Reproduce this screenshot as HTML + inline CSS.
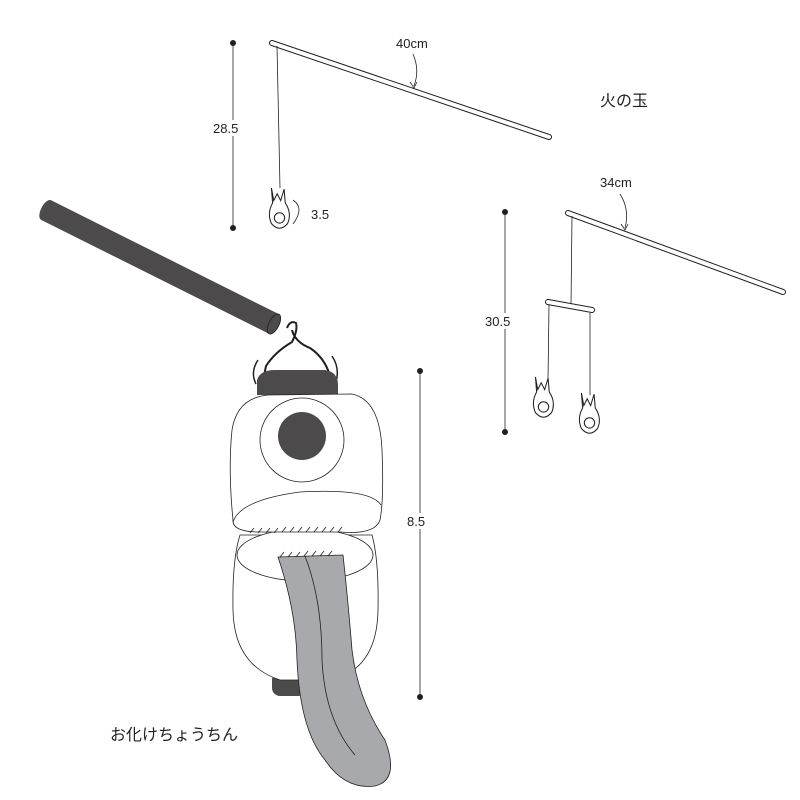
<!DOCTYPE html>
<html><head><meta charset="utf-8"><style>body{margin:0;background:#fff}svg{display:block}text{font-family:"Liberation Sans","Noto Sans CJK JP",sans-serif;fill:#231f20}</style></head><body>
<svg width="800" height="800" viewBox="0 0 800 800" xmlns="http://www.w3.org/2000/svg">
<defs>
<g id="flame" fill="#fff" stroke="#231f20" stroke-width="0.9">
<path d="M3,0 L5,11 L8,5 L11,11 L14,1 L15,13 Q21,22 17,31 Q10,39 3,31 Q-1,22 4,13 Z"/>
<circle cx="10" cy="26" r="4.5"/>
</g>
</defs>
<!-- top rod -->
<line x1="272" y1="43" x2="549" y2="137" stroke="#231f20" stroke-width="6" stroke-linecap="round"/>
<line x1="272" y1="43" x2="549" y2="137" stroke="#fff" stroke-width="4" stroke-linecap="round"/>
<line x1="277" y1="46" x2="280" y2="188" stroke="#231f20" stroke-width="0.8"/>
<use href="#flame" transform="translate(268,188) scale(1.15)"/>
<path d="M293,200 Q305,208 293,224" fill="none" stroke="#231f20" stroke-width="0.8"/>
<text x="311" y="219" font-size="13">3.5</text>
<line x1="233" y1="43" x2="233" y2="228" stroke="#231f20" stroke-width="0.8"/>
<circle cx="233" cy="43" r="3" fill="#231f20"/><circle cx="233" cy="228" r="3" fill="#231f20"/>
<rect x="212" y="120" width="40" height="16" fill="#fff"/>
<text x="213" y="133" font-size="13">28.5</text>
<text x="396" y="48" font-size="13">40cm</text>
<path d="M413,54 Q420,70 414,86" fill="none" stroke="#231f20" stroke-width="0.8"/>
<path d="M410,82 L414,88 L417,82" fill="none" stroke="#231f20" stroke-width="0.8"/>
<text x="600" y="106" font-size="16">火の玉</text>
<!-- second rod -->
<line x1="568" y1="213" x2="783" y2="292" stroke="#231f20" stroke-width="6" stroke-linecap="round"/>
<line x1="568" y1="213" x2="783" y2="292" stroke="#fff" stroke-width="4" stroke-linecap="round"/>
<line x1="572" y1="216" x2="571" y2="306" stroke="#231f20" stroke-width="0.8"/>
<line x1="548" y1="302" x2="592" y2="310" stroke="#231f20" stroke-width="6" stroke-linecap="round"/>
<line x1="548" y1="302" x2="592" y2="310" stroke="#fff" stroke-width="4" stroke-linecap="round"/>
<line x1="549" y1="305" x2="548" y2="380" stroke="#231f20" stroke-width="0.8"/>
<line x1="590" y1="313" x2="590" y2="395" stroke="#231f20" stroke-width="0.8"/>
<use href="#flame" transform="translate(532,377) scale(1.15)"/>
<use href="#flame" transform="translate(578,393) scale(1.15)"/>
<text x="600" y="187" font-size="13">34cm</text>
<path d="M620,194 Q630,210 625,228" fill="none" stroke="#231f20" stroke-width="0.8"/>
<path d="M621,224 L625,230 L628,224" fill="none" stroke="#231f20" stroke-width="0.8"/>
<line x1="505" y1="212" x2="505" y2="432" stroke="#231f20" stroke-width="0.8"/>
<circle cx="505" cy="212" r="3" fill="#231f20"/><circle cx="505" cy="432" r="3" fill="#231f20"/>
<rect x="484" y="313" width="40" height="16" fill="#fff"/>
<text x="485" y="326" font-size="13">30.5</text>
<!-- pole -->
<line x1="46" y1="210" x2="274" y2="324" stroke="#4d4a4b" stroke-width="22" stroke-linecap="butt"/>
<ellipse cx="46" cy="210" rx="5" ry="11" transform="rotate(27 46 210)" fill="#4d4a4b"/>
<ellipse cx="274" cy="324" rx="5" ry="11" transform="rotate(27 274 324)" fill="#4d4a4b" stroke="#231f20" stroke-width="0.8"/>
<!-- hook -->
<path d="M287,328 Q290,320 296,323 Q298,330 292,342 Q275,352 266,366 L264,376 M292,330 Q295,342 310,348 Q325,358 330,376" fill="none" stroke="#231f20" stroke-width="2"/>
<path d="M258,360 Q250,372 256,384 M332,356 Q340,368 336,382" fill="none" stroke="#231f20" stroke-width="1.5"/>
<!-- lantern -->
<path d="M257,395 L257,380 Q260,370 275,370 L325,370 Q338,372 338,385 L338,395 Z" fill="#4d4a4b"/>
<rect x="272" y="672" width="34" height="24" rx="8" fill="#4d4a4b"/>
<path d="M240,535 Q232,560 233,610 Q234,665 280,680 L330,680 Q377,670 378,610 Q379,560 372,535 Z" fill="#fff" stroke="#231f20" stroke-width="0.8"/>
<ellipse cx="305" cy="555" rx="68" ry="26" fill="#fff" stroke="#231f20" stroke-width="0.8"/>
<path d="M268,395 L352,394 Q380,400 382,450 Q384,500 380,520 Q375,535 340,532 L260,532 Q232,532 233,520 Q228,470 232,430 Q237,398 268,395 Z" fill="#fff" stroke="#231f20" stroke-width="0.8"/>
<path d="M233,522 Q240,500 300,492 Q370,488 381,505" fill="none" stroke="#231f20" stroke-width="0.8"/>
<circle cx="302" cy="440" r="42" fill="#fff" stroke="#231f20" stroke-width="0.8"/>
<circle cx="302" cy="436" r="24" fill="#4d4a4b"/>
<g stroke="#231f20" stroke-width="0.8">
<path d="M250,533 l4,-5 M258,533 l4,-5 M266,533 l4,-5 M274,533 l4,-5 M282,532 l4,-5 M290,532 l4,-5 M298,532 l4,-5 M306,532 l4,-5 M314,532 l4,-5 M322,532 l4,-5 M330,532 l4,-5 M338,532 l4,-5"/>
</g>
<!-- tail -->
<path d="M278,557 L343,555 Q348,600 352,650 Q358,700 385,740 Q400,780 375,786 Q345,790 325,760 Q300,730 297,660 Q296,610 278,557 Z" fill="#a7a9ac" stroke="#231f20" stroke-width="0.8"/>
<path d="M305,556 Q322,600 322,660 Q325,720 355,755" fill="none" stroke="#231f20" stroke-width="0.8"/>
<path d="M280,557 l4,-5 M288,557 l4,-5 M296,557 l4,-5 M304,556 l4,-5 M312,556 l4,-5 M320,556 l4,-5 M328,556 l4,-5" stroke="#231f20" stroke-width="0.8"/>
<line x1="420" y1="371" x2="420" y2="697" stroke="#231f20" stroke-width="0.8"/>
<circle cx="420" cy="371" r="3" fill="#231f20"/><circle cx="420" cy="697" r="3" fill="#231f20"/>
<rect x="404" y="513" width="30" height="16" fill="#fff"/>
<text x="407" y="526" font-size="13">8.5</text>
<text x="110" y="740" font-size="16">お化けちょうちん</text>
</svg>
</body></html>
